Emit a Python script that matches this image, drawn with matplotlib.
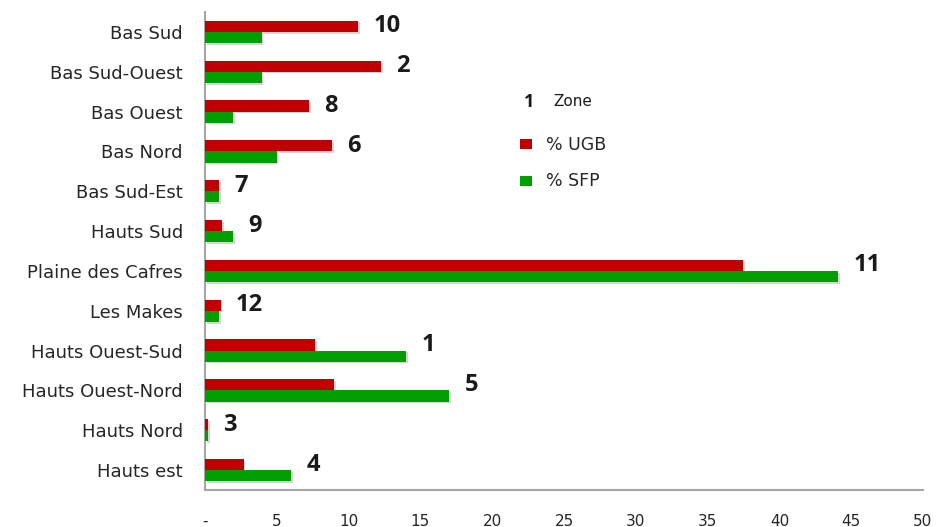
import matplotlib
matplotlib.use("Agg")
import matplotlib.pyplot as plt
import matplotlib.patheffects as pe
from matplotlib.patches import Rectangle
import numpy as np

categories = ["Bas Sud", "Bas Sud-Ouest", "Bas Ouest", "Bas Nord", "Bas Sud-Est",
              "Hauts Sud", "Plaine des Cafres", "Les Makes", "Hauts Ouest-Sud",
              "Hauts Ouest-Nord", "Hauts Nord", "Hauts est"]
ugb = [10.65, 12.25, 7.25, 8.85, 0.97, 1.2, 37.5, 1.1, 7.65, 9.0, 0.2, 2.7]
sfp = [3.95, 3.95, 1.95, 5.0, 0.97, 1.95, 44.1, 1.0, 14.0, 17.0, 0.2, 6.0]
zones = ["10", "2", "8", "6", "7", "9", "11", "12", "1", "5", "3", "4"]
xticks = [0, 5, 10, 15, 20, 25, 30, 35, 40, 45, 50]
xticklabels = ["-", "5", "10", "15", "20", "25", "30", "35", "40", "45", "50"]

RED = "#C00000"
GREEN = "#009E00"

fig = plt.figure(figsize=(9.48, 5.27), dpi=100)
ax = fig.add_axes([205 / 948, 1 - 490 / 527, 718 / 948, 478 / 527])

y = np.arange(len(categories))
h = 0.28
shadow = [pe.SimplePatchShadow(offset=(1.2, -1.2), shadow_rgbFace="#888888", alpha=0.35), pe.Normal()]
ax.barh(y - h / 2, ugb, height=h, color=RED, path_effects=shadow, zorder=3)
ax.barh(y + h / 2, sfp, height=h, color=GREEN, path_effects=shadow, zorder=3)

for i, z in enumerate(zones):
    xend = max(ugb[i], sfp[i])
    ax.annotate(z, xy=(xend, y[i] - h / 2), xytext=(11, 0), textcoords="offset points",
                ha="left", va="center", fontsize=17, fontweight="bold",
                family="Open Sans", color="#1a1a1a")

ax.set_xlim(0, 50)
ax.set_ylim(len(categories) - 0.5, -0.5)
ax.set_yticks(y)
ax.set_yticklabels(categories, fontsize=13, family="DejaVu Sans", color="#262626")
ax.set_xticks(xticks)
ax.set_xticklabels(xticklabels, fontsize=11, family="DejaVu Sans", color="#262626")
ax.tick_params(axis="y", length=0, pad=16)
ax.tick_params(axis="x", length=0, pad=17)

for s in ["top", "right"]:
    ax.spines[s].set_visible(False)
for s in ["left", "bottom"]:
    ax.spines[s].set_color("#A6A6A6")
    ax.spines[s].set_linewidth(1.5)

# legend
def fx(px):
    return px / 948
def fy(py):
    return 1 - py / 527

fig.text(fx(529), fy(102), "1", fontsize=13, fontweight="bold", family="Open Sans",
         ha="center", va="center", color="#1a1a1a")
fig.text(fx(553), fy(102), "Zone", fontsize=11, family="DejaVu Sans",
         ha="left", va="center", color="#1a1a1a")
fig.patches.append(Rectangle((fx(520), fy(149)), 12 / 948, 10 / 527, transform=fig.transFigure,
                             facecolor=RED, edgecolor="none"))
fig.text(fx(546), fy(145), "% UGB", fontsize=12.5, family="DejaVu Sans",
         ha="left", va="center", color="#262626")
fig.patches.append(Rectangle((fx(520), fy(186)), 12 / 948, 10 / 527, transform=fig.transFigure,
                             facecolor=GREEN, edgecolor="none"))
fig.text(fx(546), fy(181), "% SFP", fontsize=12.5, family="DejaVu Sans",
         ha="left", va="center", color="#262626")

fig.savefig("out.png", dpi=100, facecolor="white")
